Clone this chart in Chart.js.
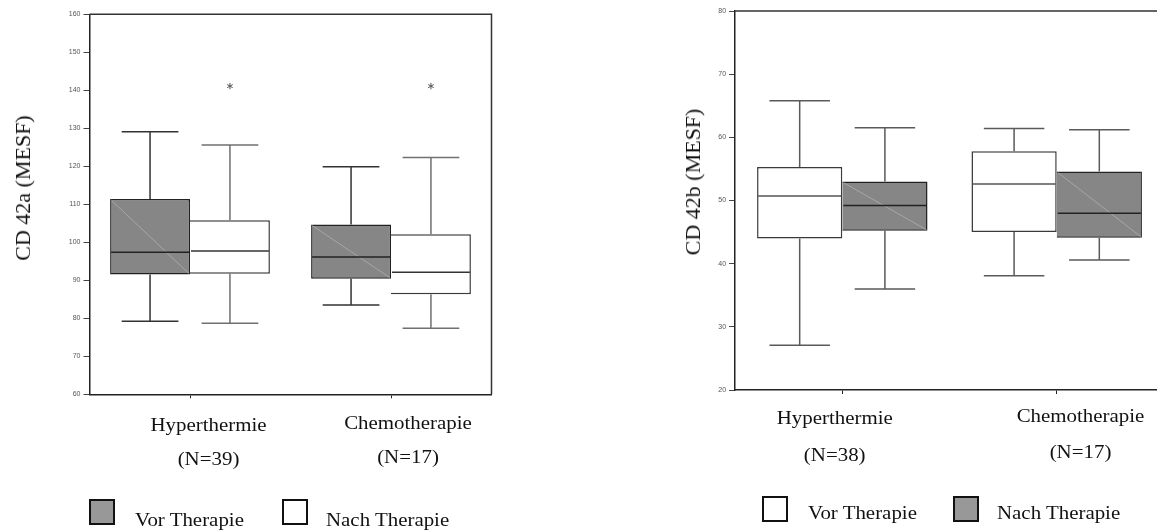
<!DOCTYPE html>
<html>
<head>
<meta charset="utf-8">
<script src="https://cdn.jsdelivr.net/npm/chart.js@4.4.1/dist/chart.umd.min.js"></script>
<style>
  html, body { margin: 0; padding: 0; background: #fff; width: 1157px; height: 531px; overflow: hidden; position: relative; }
  canvas { position: absolute; top: 0; }
  #cd42a { left: 0; }
  #cd42b { left: 600px; }
  .ytitle { position: absolute; font-family: "Liberation Serif", "Times New Roman", serif; font-size: 22px; line-height: 24px;
            white-space: nowrap; color: #111; transform: translate(-50%, -50%) rotate(-90deg); }
  .leg { position: absolute; font-family: "Liberation Serif", "Times New Roman", serif; font-size: 19px; line-height: 20px;
         white-space: nowrap; color: #111; transform-origin: left center; transform: scaleX(1.1); }
  .sw { position: absolute; width: 22px; height: 22px; border: 2px solid #111; }
</style>
</head>
<body>
<canvas id="cd42a" width="560" height="531"></canvas>
<canvas id="cd42b" width="600" height="531"></canvas>

<div class="ytitle" style="left:23px; top:188px;">CD 42a (MESF)</div>
<div class="ytitle" style="left:693px; top:182px;">CD 42b (MESF)</div>

<div class="sw" style="left:89px; top:499px; background:#989898;"></div>
<div class="leg" style="left:135px; top:510px;">Vor Therapie</div>
<div class="sw" style="left:282px; top:499px; background:#fff;"></div>
<div class="leg" style="left:326px; top:510px;">Nach Therapie</div>

<div class="sw" style="left:762px; top:496px; background:#fff;"></div>
<div class="leg" style="left:808px; top:503px;">Vor Therapie</div>
<div class="sw" style="left:953px; top:496px; background:#989898;"></div>
<div class="leg" style="left:997px; top:503px;">Nach Therapie</div>

<script>
// Groups on the x axis
const categories = ['Hyperthermie', 'Chemotherapie'];
const groupSizesA = ['(N=39)', '(N=17)'];
const groupSizesB = ['(N=38)', '(N=17)'];

// Y axis tick values
const cd42aTicks = [60, 70, 80, 90, 100, 110, 120, 130, 140, 150, 160];
const cd42bTicks = [20, 30, 40, 50, 60, 70, 80];

// CD 42a box statistics (Hyperthermie, Chemotherapie)
const aVorMin = [79.2, 83.5];
const aVorQ1 = [91.5, 90.4];
const aVorMedian = [97.4, 96.1];
const aVorQ3 = [111.4, 104.7];
const aVorMax = [129.1, 119.9];

const aNachMin = [78.7, 77.4];
const aNachQ1 = [91.7, 86.3];
const aNachMedian = [97.7, 92.1];
const aNachQ3 = [105.8, 102.1];
const aNachMax = [125.6, 122.3];
const aNachOutliers = [[141.1], [141.1]];

// CD 42b box statistics (Hyperthermie, Chemotherapie)
const bVorMin = [27.1, 38.1];
const bVorQ1 = [44.0, 45.0];
const bVorMedian = [50.7, 52.6];
const bVorQ3 = [55.3, 57.8];
const bVorMax = [65.8, 61.4];

const bNachMin = [36.0, 40.6];
const bNachQ1 = [45.2, 44.1];
const bNachMedian = [49.2, 48.0];
const bNachQ3 = [53.0, 54.6];
const bNachMax = [61.5, 61.2];

const GRAY = '#868686';
const WHITE = '#ffffff';

function boxDataset(label, q1, q3, min, med, max, outliers, style) {
  return {
    label,
    data: q1.map((v, i) => [v, q3[i]]),
    whiskerMin: min,
    median: med,
    whiskerMax: max,
    outliers: outliers || [],
    backgroundColor: style.fill,
    borderColor: style.border,
    borderWidth: 1.5,
    borderSkipped: style.skip || false,
    whiskerColor: style.whisker,
    medianColor: style.median,
    diagonal: style.diagonal,
    categoryPercentage: 0.795,
    barPercentage: 1.0
  };
}

// Whiskers, caps, medians, outliers and the shading stroke of filled boxes
const boxDetails = {
  id: 'boxDetails',
  afterDatasetsDraw(chart) {
    const ctx = chart.ctx;
    const y = chart.scales.y;
    chart.data.datasets.forEach((ds, d) => {
      const meta = chart.getDatasetMeta(d);
      meta.data.forEach((bar, i) => {
        const half = bar.width / 2;
        const top = Math.min(bar.y, bar.base);
        const bottom = Math.max(bar.y, bar.base);
        const left = bar.x - half, right = bar.x + half;
        ctx.save();
        if (ds.diagonal) {
          ctx.strokeStyle = '#b4b4b4';
          ctx.lineWidth = 0.7;
          ctx.beginPath();
          ctx.moveTo(left + 1, top + 1);
          ctx.lineTo(right - 1, bottom - 1);
          ctx.stroke();
        }
        const capHalf = bar.width * 0.355;
        const yMax = y.getPixelForValue(ds.whiskerMax[i]);
        const yMin = y.getPixelForValue(ds.whiskerMin[i]);
        ctx.strokeStyle = ds.whiskerColor;
        ctx.lineWidth = 1.5;
        ctx.beginPath();
        ctx.moveTo(bar.x, top); ctx.lineTo(bar.x, yMax);
        ctx.moveTo(bar.x - capHalf, yMax); ctx.lineTo(bar.x + capHalf, yMax);
        ctx.moveTo(bar.x, bottom); ctx.lineTo(bar.x, yMin);
        ctx.moveTo(bar.x - capHalf, yMin); ctx.lineTo(bar.x + capHalf, yMin);
        ctx.stroke();
        const yMed = y.getPixelForValue(ds.median[i]);
        ctx.strokeStyle = ds.medianColor;
        ctx.beginPath();
        ctx.moveTo(left + 1, yMed); ctx.lineTo(right - 1, yMed);
        ctx.stroke();
        (ds.outliers[i] || []).forEach(v => {
          const py = y.getPixelForValue(v);
          ctx.strokeStyle = '#555';
          ctx.lineWidth = 1;
          ctx.beginPath();
          for (let k = 0; k < 3; k++) {
            const a = Math.PI / 2 + k * Math.PI / 3;
            const r = 3.2;
            ctx.moveTo(bar.x + Math.cos(a) * r, py + Math.sin(a) * r);
            ctx.lineTo(bar.x - Math.cos(a) * r, py - Math.sin(a) * r);
          }
          ctx.stroke();
        });
        ctx.restore();
      });
    });
  }
};

// Top and right edges of the plot frame
const frame = {
  id: 'frame',
  afterDraw(chart) {
    const { left, top, right, bottom } = chart.chartArea;
    const ctx = chart.ctx;
    ctx.save();
    ctx.strokeStyle = '#333';
    ctx.lineWidth = 1.5;
    ctx.beginPath();
    ctx.moveTo(left, top); ctx.lineTo(right, top); ctx.lineTo(right, bottom);
    ctx.stroke();
    ctx.restore();
  }
};

// Group names with their sample sizes beneath the x axis
const groupLabels = {
  id: 'groupLabels',
  afterDraw(chart, args, opts) {
    const ctx = chart.ctx;
    const x = chart.scales.x;
    const bottom = chart.chartArea.bottom;
    ctx.save();
    ctx.fillStyle = '#111';
    ctx.font = '19px "Liberation Serif", "Times New Roman", serif';
    ctx.textAlign = 'center';
    ctx.textBaseline = 'alphabetic';
    chart.data.labels.forEach((lab, i) => {
      const px = x.getPixelForValue(i) + opts.dx[i];
      const py = bottom + opts.dy[i];
      [lab, opts.sizes[i]].forEach((line, j) => {
        ctx.save();
        ctx.translate(px, py + j * opts.gap);
        ctx.scale(1.1, 1);
        ctx.fillText(line, 0, 0);
        ctx.restore();
      });
    });
    ctx.restore();
  }
};

function makeChart(id, ticks, datasets, layout, labelOpts) {
  return new Chart(document.getElementById(id), {
    type: 'bar',
    data: { labels: categories, datasets },
    plugins: [boxDetails, frame, groupLabels],
    options: {
      responsive: false,
      animation: false,
      devicePixelRatio: 1,
      layout: { padding: { left: 0, right: layout.padRight, top: layout.padTop, bottom: 0 } },
      plugins: {
        legend: { display: false },
        tooltip: { enabled: false },
        groupLabels: labelOpts
      },
      scales: {
        x: {
          type: 'category',
          offset: true,
          grid: { display: true, drawOnChartArea: false, drawTicks: true, tickLength: 4, color: '#222', offset: false },
          border: { display: true, color: '#222', width: 1.5 },
          ticks: { display: false },
          afterFit(s) { s.height = layout.xHeight; }
        },
        y: {
          min: ticks[0],
          max: ticks[ticks.length - 1],
          ticks: {
            stepSize: ticks[1] - ticks[0],
            color: '#555',
            padding: 3,
            font: { family: '"Liberation Sans", Arial, sans-serif', size: 7 }
          },
          grid: { drawOnChartArea: false, drawTicks: true, tickLength: 6, color: '#444' },
          border: { display: true, color: '#222', width: 1.5 },
          afterFit(s) { s.width = layout.yWidth; }
        }
      }
    }
  });
}

makeChart('cd42a', cd42aTicks, [
  boxDataset('Vor Therapie', aVorQ1, aVorQ3, aVorMin, aVorMedian, aVorMax, null,
    { fill: GRAY, border: '#222', whisker: '#333', median: '#222', diagonal: true }),
  boxDataset('Nach Therapie', aNachQ1, aNachQ3, aNachMin, aNachMedian, aNachMax, aNachOutliers,
    { fill: WHITE, border: '#3a3a3a', whisker: '#707070', median: '#333', diagonal: false, skip: 'left' })
], { padRight: 68.5, padTop: 14.3, xHeight: 136.7, yWidth: 89.5 },
   { sizes: groupSizesA, dx: [18.5, 17], dy: [36.5, 34.5], gap: 34 });

makeChart('cd42b', cd42bTicks, [
  boxDataset('Vor Therapie', bVorQ1, bVorQ3, bVorMin, bVorMedian, bVorMax, null,
    { fill: WHITE, border: '#3a3a3a', whisker: '#5a5a5a', median: '#555', diagonal: false }),
  boxDataset('Nach Therapie', bNachQ1, bNachQ3, bNachMin, bNachMedian, bNachMax, null,
    { fill: GRAY, border: '#222', whisker: '#5a5a5a', median: '#222', diagonal: true, skip: 'left' })
], { padRight: 36.1, padTop: 11, xHeight: 141, yWidth: 135.1 },
   { sizes: groupSizesB, dx: [-7.6, 23.8], dy: [34.3, 31.7], gap: 36.7 });
</script>
</body>
</html>
